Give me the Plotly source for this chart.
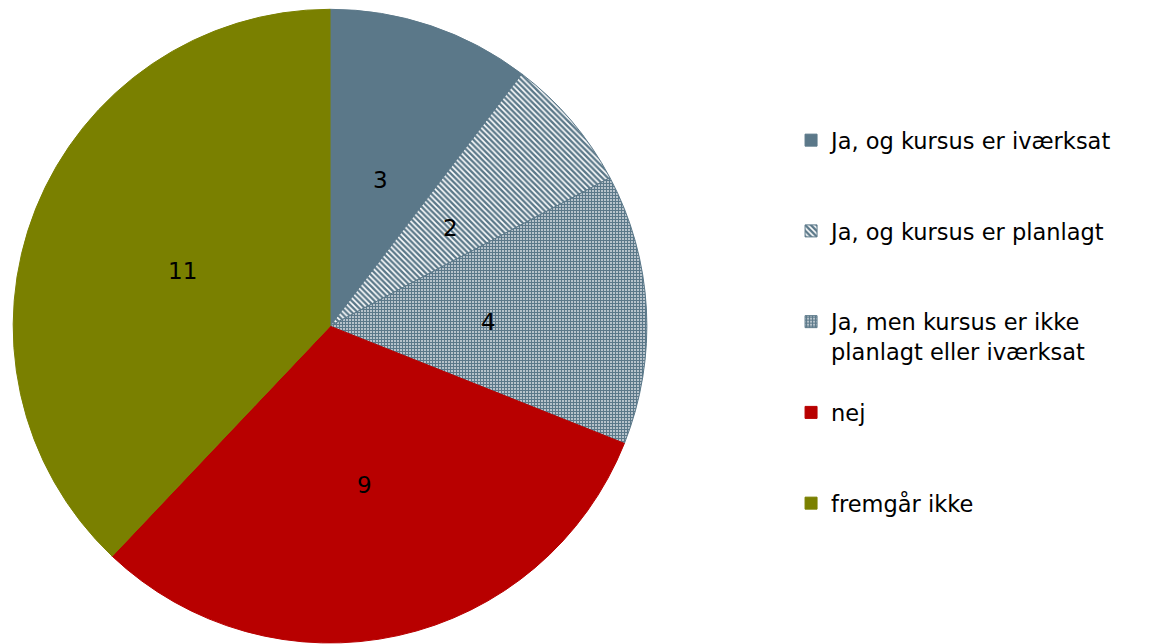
import math
import plotly.graph_objects as go

labels = ["Ja, og kursus er iværksat",
          "Ja, og kursus er planlagt",
          "Ja, men kursus er ikke<br>planlagt eller iværksat",
          "nej",
          "fremgår ikke"]
values = [3, 2, 4, 9, 11]

slate = "#5B7889"
red = "#B80000"
olive = "#7A8000"

# blank lines pad the legend entries to equal spacing
legend_pad = ["<br> <br> ", "<br> <br> ", "<br> ", "<br> <br> ", ""]
legend_labels = [l + p for l, p in zip(labels, legend_pad)]

dom_x = [0.0043, 0.5443]
dom_y = [0.014, 0.998]

fig = go.Figure()
fig.add_trace(go.Pie(
    labels=legend_labels,
    values=values,
    sort=False,
    direction="clockwise",
    rotation=0,
    textinfo="none",
    hoverinfo="skip",
    marker=dict(
        colors=[slate, "white", "white", red, olive],
        line=dict(color=[slate, slate, slate, red, olive], width=1),
        pattern=dict(
            shape=["", "\\", "+", "", ""],
            fgcolor=[slate, slate, slate, red, olive],
            bgcolor=[slate, "white", "white", red, olive],
            size=[6, 4, 3, 6, 6],
            solidity=[0.5, 0.6, 0.75, 0.5, 0.5],
            fillmode="replace",
        ),
    ),
    domain=dict(x=dom_x, y=dom_y),
))

# value labels at half the radius, on axes laid over the pie (unit = radius)
total = sum(values)
cum = 0
for v in values:
    ang = 2 * math.pi * (cum + v / 2) / total
    cum += v
    fig.add_annotation(x=0.5 * math.sin(ang), y=0.5 * math.cos(ang),
                       xref="x", yref="y", text=str(v), showarrow=False,
                       yshift=-4,
                       font=dict(family="DejaVu Sans", size=23, color="black"))

fig.update_layout(
    width=1174, height=644,
    margin=dict(l=0, r=0, t=0, b=0),
    paper_bgcolor="white",
    plot_bgcolor="rgba(0,0,0,0)",
    font=dict(family="DejaVu Sans", size=22.5, color="black"),
    xaxis=dict(domain=dom_x, range=[-1, 1], visible=False, fixedrange=True),
    yaxis=dict(domain=dom_y, range=[-1, 1], visible=False, fixedrange=True),
    legend=dict(
        x=0.667, y=0.8276, xanchor="left", yanchor="top",
        valign="top",
        font=dict(family="DejaVu Sans", size=22.5, color="black"),
        bgcolor="rgba(0,0,0,0)",
    ),
)

fig.write_html("out.html")
